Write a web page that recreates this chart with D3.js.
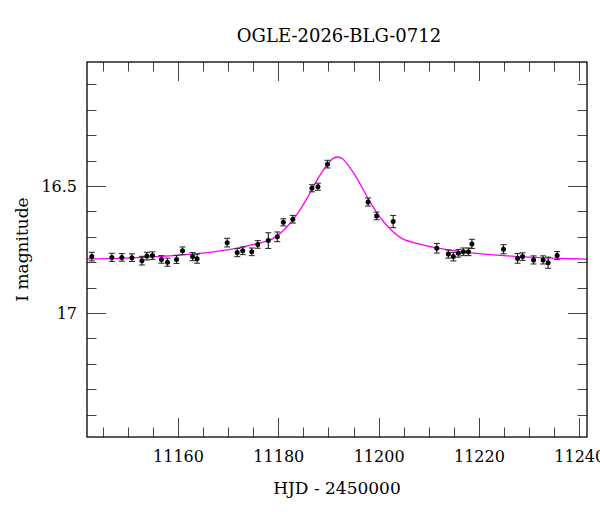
<!DOCTYPE html>
<html>
<head>
<meta charset="utf-8">
<script src="https://cdn.jsdelivr.net/npm/d3@7"></script>
<style>
  html, body { margin: 0; padding: 0; background: #fff; }
  svg { display: block; }
  text { font-family: "DejaVu Serif", "Liberation Serif", serif; fill: #000; }
</style>
</head>
<body>
<script>
// ---- data ----
const title = "OGLE-2026-BLG-0712";
const xLabel = "HJD - 2450000";
const yLabel = "I magnitude";

const obsTime = [11142.8, 11146.8, 11148.8, 11150.8, 11152.8, 11153.8, 11154.9, 11156.7, 11157.9, 11159.7,
  11160.9, 11162.9, 11163.8, 11169.8, 11171.8, 11172.9, 11174.7, 11175.9, 11178.0, 11179.8,
  11181.0, 11182.9, 11186.7, 11187.9, 11189.8, 11197.9, 11199.6, 11202.9, 11211.6, 11213.9,
  11214.9, 11215.9, 11216.9, 11217.9, 11218.6, 11224.9, 11227.7, 11228.7, 11230.9, 11232.8,
  11233.8, 11235.6];
const obsMag = [16.778, 16.781, 16.781, 16.782, 16.794, 16.776, 16.774, 16.789, 16.800, 16.789,
  16.755, 16.778, 16.786, 16.723, 16.762, 16.755, 16.759, 16.730, 16.715, 16.700,
  16.643, 16.631, 16.509, 16.503, 16.414, 16.563, 16.618, 16.640, 16.745, 16.768,
  16.778, 16.765, 16.759, 16.759, 16.728, 16.749, 16.785, 16.778, 16.791, 16.791,
  16.802, 16.774];
const obsErr = [0.017, 0.016, 0.015, 0.015, 0.017, 0.015, 0.015, 0.015, 0.016, 0.016,
  0.015, 0.016, 0.018, 0.017, 0.016, 0.015, 0.015, 0.015, 0.031, 0.019,
  0.014, 0.015, 0.014, 0.014, 0.015, 0.016, 0.015, 0.024, 0.019, 0.016,
  0.017, 0.015, 0.015, 0.015, 0.018, 0.018, 0.019, 0.015, 0.016, 0.016,
  0.022, 0.016];

const modelTime = [11141.85, 11148, 11154, 11159, 11163.8, 11167.8, 11171.8, 11173.8, 11175.8, 11177.8,
  11178.8, 11180.8, 11182.8, 11184, 11185.8, 11187.8, 11189, 11190.8, 11191.8, 11192.8,
  11194.6, 11195.8, 11197.8, 11199.6, 11200.8, 11202.8, 11204.8, 11207.8, 11211.8, 11216,
  11220, 11225, 11230, 11236, 11241.55];
const modelMag = [16.787, 16.785, 16.780, 16.774, 16.766, 16.757, 16.745, 16.736, 16.727, 16.716,
  16.708, 16.679, 16.636, 16.604, 16.546, 16.474, 16.437, 16.393, 16.386, 16.393,
  16.437, 16.474, 16.546, 16.604, 16.636, 16.679, 16.708, 16.727, 16.745, 16.757,
  16.766, 16.774, 16.780, 16.785, 16.788];

const xMajorTicks = [11160, 11180, 11200, 11220, 11240];
const xMinorTicks = [11145, 11150, 11155, 11165, 11170, 11175, 11185, 11190, 11195, 11205, 11210, 11215, 11225, 11230, 11235];
const yMajorTicks = [16.5, 17.0];
const yMinorTicks = [16.1, 16.2, 16.3, 16.4, 16.6, 16.7, 16.8, 16.9, 17.1, 17.2, 17.3, 17.4];
const yTickLabels = ["16.5", "17"];

// ---- chart ----
const W = 600, H = 512;
const m = { left: 87, right: 13, top: 62, bottom: 75 };
const iw = W - m.left - m.right, ih = H - m.top - m.bottom;

const svg = d3.select("body").append("svg").attr("width", W).attr("height", H);
const g = svg.append("g").attr("transform", `translate(${m.left},${m.top})`);

const x = d3.scaleLinear().domain([11141.85, 11241.55]).range([0, iw]);
const y = d3.scaleLinear().domain([16.012, 17.488]).range([0, ih]);

const MAJ = 19, MIN = 9.5, TC = "#444";

// bottom axis: labels + inward ticks
const xAxisB = d3.axisBottom(x).tickValues(xMajorTicks).tickSize(0).tickPadding(14).tickFormat(d3.format("d"));
const gxb = g.append("g").attr("transform", `translate(0,${ih})`).call(xAxisB);
gxb.select(".domain").remove();
gxb.selectAll("text").style("font-family", "DejaVu Serif").style("font-size", "16px").attr("fill", "#000");

const yAxisL = d3.axisLeft(y).tickValues(yMajorTicks).tickSize(0).tickPadding(10)
  .tickFormat((d, i) => yTickLabels[i]);
const gyl = g.append("g").call(yAxisL);
gyl.select(".domain").remove();
gyl.selectAll("text").style("font-family", "DejaVu Serif").style("font-size", "16px").attr("fill", "#000");

// inward ticks on all four sides
const ticks = g.append("g").attr("stroke", TC).attr("stroke-width", 1);
function xTicks(vals, len) {
  vals.forEach(v => {
    const px = Math.round(x(v)) + 0.5;
    ticks.append("line").attr("x1", px).attr("x2", px).attr("y1", ih).attr("y2", ih - len);
    ticks.append("line").attr("x1", px).attr("x2", px).attr("y1", 0).attr("y2", len);
  });
}
function yTicks(vals, len) {
  vals.forEach(v => {
    const py = Math.round(y(v)) + 0.5;
    ticks.append("line").attr("x1", 0).attr("x2", len).attr("y1", py).attr("y2", py);
    ticks.append("line").attr("x1", iw).attr("x2", iw - len).attr("y1", py).attr("y2", py);
  });
}
xTicks(xMajorTicks, MAJ); xTicks(xMinorTicks, MIN);
yTicks(yMajorTicks, MAJ); yTicks(yMinorTicks, MIN);

// clip
svg.append("defs").append("clipPath").attr("id", "clip")
  .append("rect").attr("x", 0).attr("y", 0).attr("width", iw).attr("height", ih);
const plot = g.append("g").attr("clip-path", "url(#clip)");

// model curve
const model = modelTime.map((t, i) => [t, modelMag[i]]);
plot.append("path").datum(model)
  .attr("fill", "none").attr("stroke", "#ff00ff").attr("stroke-width", 1.3)
  .attr("d", d3.line().x(d => x(d[0])).y(d => y(d[1])).curve(d3.curveCatmullRom.alpha(0.5)));

// observations with error bars
const obs = obsTime.map((t, i) => ({ t, m: obsMag[i], e: obsErr[i] }));
const eb = plot.append("g").attr("stroke", "#111").attr("stroke-width", 1.1);
obs.forEach(d => {
  const cx = x(d.t), y1 = y(d.m - d.e), y2 = y(d.m + d.e);
  eb.append("line").attr("x1", cx).attr("x2", cx).attr("y1", y1).attr("y2", y2);
  eb.append("line").attr("x1", cx - 3).attr("x2", cx + 3).attr("y1", y1).attr("y2", y1).attr("stroke", "#333");
  eb.append("line").attr("x1", cx - 3).attr("x2", cx + 3).attr("y1", y2).attr("y2", y2).attr("stroke", "#333");
});
plot.append("g").selectAll("circle").data(obs).join("circle")
  .attr("cx", d => x(d.t)).attr("cy", d => y(d.m)).attr("r", 2.5).attr("fill", "#000");

// frame
g.append("rect").attr("x", 0).attr("y", 0).attr("width", iw).attr("height", ih)
  .attr("fill", "none").attr("stroke", "#000").attr("stroke-width", 1.3);

// titles
svg.append("text").attr("x", m.left + iw / 2 + 2).attr("y", 42).attr("text-anchor", "middle")
  .style("font-size", "18px").text(title);
svg.append("text").attr("x", m.left + iw / 2).attr("y", 494).attr("text-anchor", "middle")
  .style("font-size", "17px").text(xLabel);
svg.append("text").attr("transform", `translate(28,${m.top + ih / 2}) rotate(-90)`)
  .attr("text-anchor", "middle").style("font-size", "17px").text(yLabel);
</script>
</body>
</html>
